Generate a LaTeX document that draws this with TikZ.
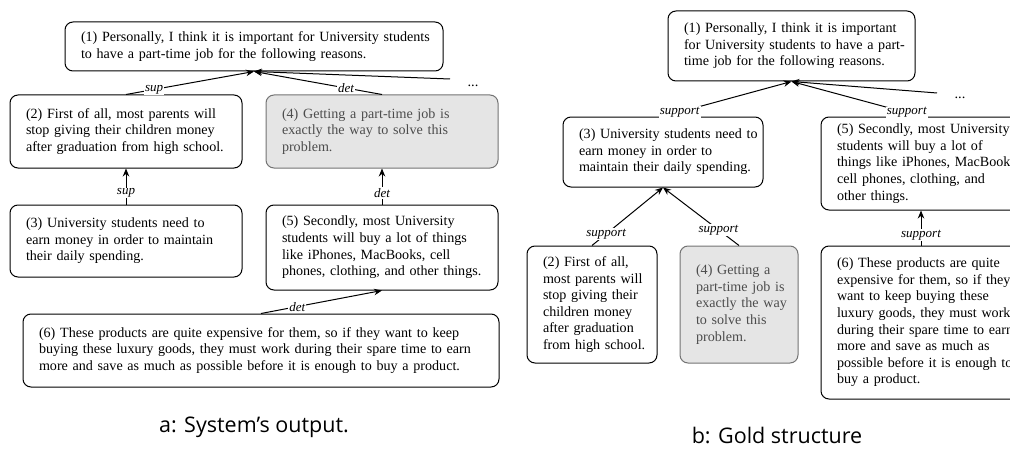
\documentclass[tikz,border=0pt]{standalone}
\usepackage{fontspec}
\setmainfont{Liberation Serif}
\newfontfamily\capfont{Open Sans}
\usetikzlibrary{arrows.meta}
\newcommand\lnx[1]{\mbox{#1}}
\tikzset{
  box/.style={draw, line width=1pt, rounded corners=8pt, inner xsep=16pt, inner ysep=0pt,
    align=left, font=\fontsize{14.1pt}{16.6pt}\selectfont},
  graybox/.style={box, fill=black!10, draw=black!55, text=black!70},
  arr/.style={-{Stealth[length=8pt,width=6.5pt]}, line width=1pt},
  lab/.style={font=\fontsize{13pt}{14pt}\selectfont\itshape, fill=white, inner sep=1pt},
  capt/.style={font=\capfont\fontsize{21.5pt}{25pt}\selectfont},
  dotsl/.style={font=\fontsize{14.5pt}{16pt}\selectfont}
}
\begin{document}
\begin{tikzpicture}[x=1pt,y=-1pt]
\useasboundingbox (0,0) rectangle (1010,452);
\clip (0,0) rectangle (1010,452);
% ---------- panel a ----------
\node[box, minimum width=378pt, text width=346pt, minimum height=49pt] (A1) at (254,46.5)
  {\lnx{(1) Personally, I think it is important for University students}\\\lnx{to have a part-time job for the following reasons.}};
\node[box, minimum width=232pt, text width=200pt, minimum height=73pt] (A2) at (126,131.5)
  {\lnx{(2) First of all, most parents will}\\\lnx{stop giving their children money}\\\lnx{after graduation from high school.}};
\node[graybox, minimum width=232pt, text width=200pt, minimum height=73pt] (A4) at (382,131.5)
  {\lnx{(4) Getting a part-time job is}\\\lnx{exactly the way to solve this}\\\lnx{problem.}};
\node[box, minimum width=232pt, text width=200pt, minimum height=72pt] (A3) at (126,241)
  {\lnx{(3) University students need to}\\\lnx{earn money in order to maintain}\\\lnx{their daily spending.}};
\node[box, minimum width=232pt, text width=200pt, minimum height=85pt] (A5) at (382,247.5)
  {\lnx{(5) Secondly, most University}\\\lnx{students will buy a lot of things}\\\lnx{like iPhones, MacBooks, cell}\\\lnx{phones, clothing, and other things.}};
\node[box, minimum width=476pt, text width=444pt, minimum height=73pt] (A6) at (261,350.5)
  {\lnx{(6) These products are quite expensive for them, so if they want to keep}\\\lnx{buying these luxury goods, they must work during their spare time to earn}\\\lnx{more and save as much as possible before it is enough to buy a product.}};
\node[dotsl] (Da) at (473,86) {...};
\coordinate (Ea) at (450,79);
\node[capt] (Ca) at (254,427) {a: System’s output.};
\draw[arr] (A2.north) -- node[lab, pos=0.22] {sup} (A1.south);
\draw[arr] (A4.north) -- node[lab, pos=0.28] {det} (A1.south);
\draw[arr] (Ea) -- (A1.south);
\draw[arr] (A3.north) -- node[lab, pos=0.32] {sup} (A2.south);
\draw[arr] (A5.north) -- node[lab, pos=0.32] {det} (A4.south);
\draw[arr] (A6.north) -- node[lab, pos=0.3] {det} (A5.south);
% ---------- panel b ----------
\node[box, minimum width=247pt, text width=215pt, minimum height=70pt] (B1) at (791.5,46)
  {\lnx{(1) Personally, I think it is important}\\\lnx{for University students to have a part-}\\\lnx{time job for the following reasons.}};
\node[box, minimum width=200pt, text width=168pt, minimum height=70pt] (B3) at (663,152)
  {\lnx{(3) University students need to}\\\lnx{earn money in order to}\\\lnx{maintain their daily spending.}};
\node[box, minimum width=200pt, text width=168pt, minimum height=93pt] (B5) at (921,163.5)
  {\lnx{(5) Secondly, most University}\\\lnx{students will buy a lot of}\\\lnx{things like iPhones, MacBooks,}\\\lnx{cell phones, clothing, and}\\\lnx{other things.}};
\node[box, minimum width=130pt, text width=98pt, minimum height=117pt] (B2) at (592,304.5)
  {\lnx{(2) First of all,}\\\lnx{most parents will}\\\lnx{stop giving their}\\\lnx{children money}\\\lnx{after graduation}\\\lnx{from high school.}};
\node[graybox, minimum width=118pt, text width=86pt, minimum height=117pt] (B4) at (739,304.5)
  {\lnx{(4) Getting a}\\\lnx{part-time job is}\\\lnx{exactly the way}\\\lnx{to solve this}\\\lnx{problem.}};
\node[box, minimum width=200pt, text width=168pt, minimum height=153pt] (B6) at (921,322.5)
  {\lnx{(6) These products are quite}\\\lnx{expensive for them, so if they}\\\lnx{want to keep buying these}\\\lnx{luxury goods, they must work}\\\lnx{during their spare time to earn}\\\lnx{more and save as much as}\\\lnx{possible before it is enough to}\\\lnx{buy a product.}};
\node[dotsl] (Db) at (960,98) {...};
\coordinate (Eb) at (937,93);
\node[capt] (Cb) at (777,435) {b: Gold structure};
\draw[arr] (B3.north) -- node[lab, pos=0.13] {support} (B1.south);
\draw[arr] (B5.north) -- node[lab, pos=0.11] {support} (B1.south);
\draw[arr] (Eb) -- (B1.south);
\draw[arr] (B2.north) -- node[lab, pos=0.2] {support} (B3.south);
\draw[arr] (B4.north) -- node[lab, pos=0.27] {support} (B3.south);
\draw[arr] (B6.north) -- node[lab, pos=0.3] {support} (B5.south);
\end{tikzpicture}
\end{document}
